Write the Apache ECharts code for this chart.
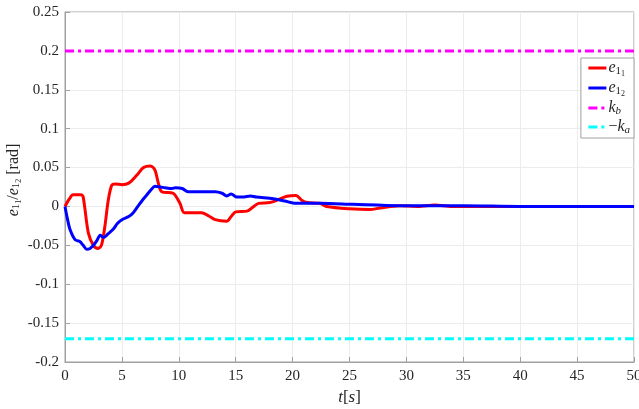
<!DOCTYPE html>
<html><head><meta charset="utf-8">
<script src="https://cdn.jsdelivr.net/npm/echarts@6/dist/echarts.min.js"></script>
<style>html,body{margin:0;padding:0;background:#fff}#c{width:639px;height:409px}</style>
</head><body><div id="c"></div>
<script>
var tRed = [0,0.4,0.7,1.4,1.6,2.05,2.5,2.9,3.2,3.5,3.8,4.1,4.4,5.0,5.6,6.3,6.9,7.5,7.9,8.2,8.5,9.5,10.1,10.5,12.0,12.6,13.2,14.2,14.6,15.0,16.0,16.5,17.0,18.0,18.8,19.5,20.3,20.8,21.3,22.4,23.0,25.0,26.8,27.7,29.4,31,32.5,34,40,45,50];
var eRed = [0,0.010,0.015,0.015,0.012,-0.034,-0.050,-0.054,-0.050,-0.026,0.008,0.027,0.029,0.028,0.030,0.040,0.050,0.052,0.047,0.030,0.019,0.017,0.004,-0.008,-0.008,-0.012,-0.017,-0.019,-0.013,-0.007,-0.006,-0.001,0.004,0.005,0.009,0.013,0.014,0.008,0.005,0.004,0.0,-0.003,-0.004,-0.002,0.001,0.0,0.002,0.0,0,0,0];
var tBlue = [0,0.2,0.45,0.9,1.3,1.6,1.9,2.2,2.5,2.8,3.1,3.4,3.8,4.25,4.6,5.0,5.6,6.0,6.4,6.8,7.2,7.6,7.9,8.4,8.8,9.4,9.7,10.3,10.8,12.0,13.2,13.8,14.2,14.6,15.1,15.6,16.3,16.8,18.3,19.3,20.3,22.4,25.3,29.4,35,40,50];
var eBlue = [0,-0.015,-0.030,-0.043,-0.045,-0.050,-0.055,-0.054,-0.050,-0.044,-0.037,-0.040,-0.035,-0.029,-0.022,-0.017,-0.013,-0.008,0.0,0.008,0.015,0.022,0.026,0.025,0.024,0.023,0.024,0.023,0.019,0.019,0.019,0.017,0.0135,0.016,0.012,0.012,0.0135,0.012,0.010,0.007,0.004,0.004,0.0027,0.001,0.001,0,0];
var kb = 0.2;
var ka = 0.17;
var xTicks = [0,5,10,15,20,25,30,35,40,45,50];
var yTicks = [-0.2,-0.15,-0.1,-0.05,0,0.05,0.1,0.15,0.2,0.25];

function pairs(t, v){ return t.map(function(x,i){ return [x, v[i]]; }); }
var font = 'Liberation Serif';
var C = '#262626';
var rich = {
  i: {fontFamily: font, fontStyle: 'italic', fontSize: 16, color: C},
  n: {fontFamily: font, fontSize: 16, color: C},
  s: {fontFamily: font, fontSize: 11, color: C, padding: [7,0,0,0]},
  ss: {fontFamily: font, fontSize: 8, color: C, padding: [12,0,0,0]},
  si: {fontFamily: font, fontStyle: 'italic', fontSize: 11, color: C, padding: [7,0,0,0]}
};
var yrich = {
  i: {fontFamily: font, fontStyle: 'italic', fontSize: 16, color: C},
  n: {fontFamily: font, fontSize: 16, color: C},
  s: {fontFamily: font, fontSize: 11, color: C, padding: [6,0,0,0]},
  ss: {fontFamily: font, fontSize: 8, color: C, padding: [11,0,0,0]}
};
var names = {
  'e11': '{i|e}{s|1}{ss|1}',
  'e12': '{i|e}{s|1}{ss|2}',
  'kb': '{i|k}{si|b}',
  'ka': '{n|−}{i|k}{si|a}'
};
var chart = echarts.init(document.getElementById('c'), null, {renderer: 'canvas'});
chart.setOption({
  animation: false,
  backgroundColor: '#fff',
  grid: {left: 65, right: 5, top: 12, bottom: 47, show: true, borderColor: '#a0a0a0', borderWidth: 1, containLabel: false, outerBoundsMode: 'none'},
  legend: {
    orient: 'vertical', right: 5, top: 58,
    backgroundColor: '#fff', borderColor: '#a0a0a0', borderWidth: 1, borderRadius: 0,
    padding: [2, 4, 2, 6], itemGap: 2, itemWidth: 18, itemHeight: 14,
    itemStyle: {opacity: 0},
    lineStyle: {width: 3},
    data: ['e11','e12','kb','ka'],
    formatter: function(n){ return names[n]; },
    textStyle: {rich: rich, padding: [0,0,0,-3]}
  },
  xAxis: {
    type: 'value', min: 0, max: 50, interval: 5,
    name: '{i|t}{n|[}{i|s}{n|]}', nameLocation: 'middle', nameGap: 26,
    nameTextStyle: {rich: {i: {fontFamily: font, fontStyle: 'italic', fontSize: 17, color: C}, n: {fontFamily: font, fontSize: 17, color: C}}},
    axisLine: {show: true, onZero: false, lineStyle: {color: '#a0a0a0', width: 1}},
    axisTick: {show: true, inside: true, length: 5, lineStyle: {color: '#a0a0a0'}},
    axisLabel: {fontFamily: font, fontSize: 15, color: C, margin: 7},
    splitLine: {show: true, lineStyle: {color: '#ececec', width: 1}}
  },
  yAxis: {
    type: 'value', min: -0.2, max: 0.25, interval: 0.05,
    name: '{i|e}{s|1}{ss|1}{n|/}{i|e}{s|1}{ss|2}{n| [rad]}', nameLocation: 'middle', nameGap: 42, nameRotate: 90,
    nameMoveOverlap: false,
    nameTextStyle: {rich: yrich, padding: [0,0,0,14]},
    axisLine: {show: true, onZero: false, lineStyle: {color: '#a0a0a0', width: 1}},
    axisTick: {show: true, inside: true, length: 5, lineStyle: {color: '#a0a0a0'}},
    axisLabel: {fontFamily: font, fontSize: 15, color: C, margin: 6,
      formatter: function(v){ return String(Math.round(v*100)/100); }},
    splitLine: {show: true, lineStyle: {color: '#ececec', width: 1}}
  },
  series: [
    {name: 'e11', type: 'line', data: pairs(tRed, eRed), symbol: 'none', smooth: 0.3, color: '#ff0000', lineStyle: {color: '#ff0000', width: 3}, z: 3},
    {name: 'e12', type: 'line', data: pairs(tBlue, eBlue), symbol: 'none', smooth: 0.3, color: '#0000ff', lineStyle: {color: '#0000ff', width: 3}, z: 4},
    {name: 'kb', type: 'line', data: [[0, kb],[50, kb]], symbol: 'none', color: '#ff00ff', lineStyle: {color: '#ff00ff', width: 3, type: [9,4,3,4]}, z: 2},
    {name: 'ka', type: 'line', data: [[0, -ka],[50, -ka]], symbol: 'none', color: '#00ffff', lineStyle: {color: '#00ffff', width: 3, type: [9,4,3,4]}, z: 2}
  ]
});
</script></body></html>
